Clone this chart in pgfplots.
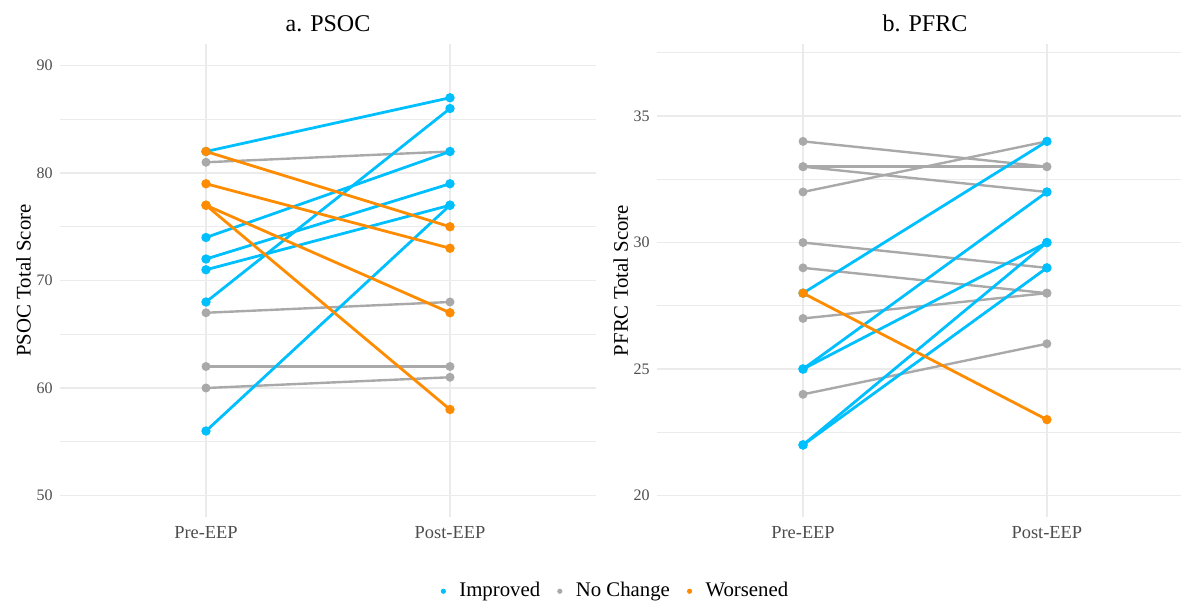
\documentclass[border=0pt]{standalone}
\usepackage{fontspec}
\setmainfont{Liberation Serif}
\usepackage{pgfplots}
\pgfplotsset{compat=1.18}
\definecolor{cImp}{HTML}{00BFFF}
\definecolor{cNo}{HTML}{A9A9A9}
\definecolor{cWor}{HTML}{FF8C00}
\definecolor{gridc}{HTML}{EBEBEB}
\definecolor{tickc}{HTML}{4D4D4D}
\pgfplotsset{
  every axis title/.style={at={(axis description cs:0.5,1)}, anchor=base, yshift=6.15pt,
    font=\fontsize{12}{14}\selectfont},
  panel/.style={
    scale only axis, anchor=south west,
    height=236.5pt,
    xmin=0.4,
    xtick={1,2}, xticklabels={Pre-EEP,Post-EEP},
    axis line style={draw=none},
    major tick length=0pt, minor tick length=0pt,
    xmajorgrids, ymajorgrids, yminorgrids,
    major grid style={gridc, line width=0.8pt},
    minor grid style={gridc, line width=0.6pt},
    tick label style={text=tickc},
    yticklabel style={font=\fontsize{8}{9}\selectfont},
    xticklabel style={font=\fontsize{9.2}{10}\selectfont, yshift=-1pt},
    /pgf/number format/assume math mode=true,
    ylabel style={font=\fontsize{10.4}{12}\selectfont, anchor=base},
    every axis plot/.append style={mark=*, mark size=1.6pt, mark options={draw=none}},
  },
  imp/.style={cImp, line width=1.4pt, mark options={fill=cImp}},
  noc/.style={cNo, line width=1.2pt, mark options={fill=cNo}},
  wor/.style={cWor, line width=1.4pt, mark options={fill=cWor}},
}
\begin{document}
\begin{tikzpicture}
\useasboundingbox (0,0) rectangle (590.5pt,300pt);
\begin{axis}[panel,
  at={(29.8pt,41.5pt)}, width=268.4pt, xmax=2.6,
  ymin=48, ymax=92, ytick={50,60,70,80,90}, minor ytick={55,65,75,85},
  title={a. PSOC},
  ylabel={PSOC Total Score},
  ylabel style={at={(axis description cs:-0.0538,0.5)}},
  legend columns=3,
  legend style={draw=none, fill=none, at={(axis description cs:1.0365,-0.157)}, anchor=center,
    font=\fontsize{10.4}{12}\selectfont,
    /tikz/every even column/.append style={column sep=7pt},
    nodes={inner sep=1.5pt}},
  legend image code/.code={\path[draw=none,fill=none] (-1.3pt,0pt) rectangle (6.5pt,0.1pt); \fill[#1,draw=none] (0pt,0pt) circle (1.3pt);},
]
% No Change
\addplot[noc, forget plot] coordinates {(1,81) (2,82)};
\addplot[noc, forget plot] coordinates {(1,67) (2,68)};
\addplot[noc, forget plot] coordinates {(1,62) (2,62)};
\addplot[noc, forget plot] coordinates {(1,60) (2,61)};
% Improved
\addplot[imp, forget plot] coordinates {(1,82) (2,87)};
\addplot[imp, forget plot] coordinates {(1,74) (2,82)};
\addplot[imp, forget plot] coordinates {(1,72) (2,79)};
\addplot[imp, forget plot] coordinates {(1,71) (2,77)};
\addplot[imp, forget plot] coordinates {(1,68) (2,86)};
\addplot[imp, forget plot] coordinates {(1,56) (2,77)};
% Worsened
\addplot[wor, forget plot] coordinates {(1,82) (2,75)};
\addplot[wor, forget plot] coordinates {(1,79) (2,73)};
\addplot[wor, forget plot] coordinates {(1,77) (2,67)};
\addplot[wor, forget plot] coordinates {(1,77) (2,58)};
\addlegendimage{cImp}
\addlegendentry{Improved}
\addlegendimage{cNo}
\addlegendentry{No Change}
\addlegendimage{cWor}
\addlegendentry{Worsened}
\end{axis}
\begin{axis}[panel,
  at={(328.35pt,41.5pt)}, width=262.15pt, xmax=2.55,
  ymin=19.15, ymax=37.85, ytick={20,25,30,35}, minor ytick={22.5,27.5,32.5,37.5},
  title={b. PFRC}, title style={at={(axis description cs:0.5117,1)}},
  ylabel={PFRC Total Score},
  ylabel style={at={(axis description cs:-0.0551,0.5)}},
]
% No Change
\addplot[noc] coordinates {(1,34) (2,33)};
\addplot[noc] coordinates {(1,33) (2,33)};
\addplot[noc] coordinates {(1,33) (2,32)};
\addplot[noc] coordinates {(1,32) (2,34)};
\addplot[noc] coordinates {(1,30) (2,29)};
\addplot[noc] coordinates {(1,29) (2,28)};
\addplot[noc] coordinates {(1,27) (2,28)};
\addplot[noc] coordinates {(1,24) (2,26)};
% Improved
\addplot[imp] coordinates {(1,28) (2,34)};
\addplot[imp] coordinates {(1,25) (2,32)};
\addplot[imp] coordinates {(1,25) (2,30)};
\addplot[imp] coordinates {(1,22) (2,30)};
\addplot[imp] coordinates {(1,22) (2,29)};
% Worsened
\addplot[wor] coordinates {(1,28) (2,23)};
\end{axis}
\end{tikzpicture}
\end{document}
